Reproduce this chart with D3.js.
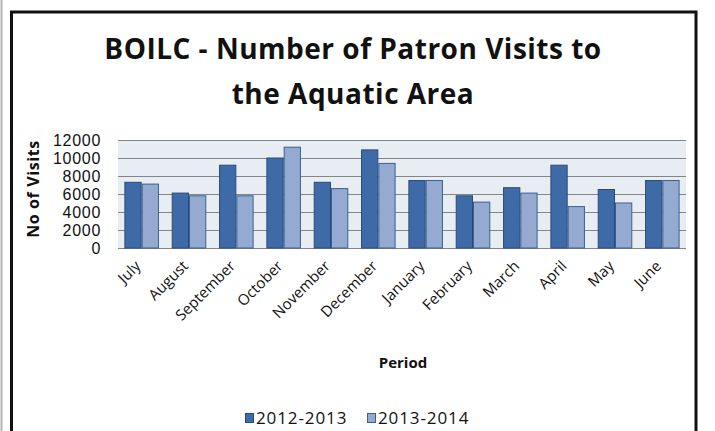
<!DOCTYPE html>
<html>
<head>
<meta charset="utf-8">
<script src="https://cdn.jsdelivr.net/npm/d3@7"></script>
<style>
  body { margin: 0; background: #fff; }
  svg { display: block; font-family: "Open Sans", sans-serif; }
</style>
</head>
<body>
<div id="chart"></div>
<script>
var svgWidth = 715;
var svgHeight = 431;

// data
var months = ["July", "August", "September", "October", "November", "December",
  "January", "February", "March", "April", "May", "June"];
var seriesNames = ["2012-2013", "2013-2014"];
var visits1213 = [7300, 6100, 9200, 10000, 7300, 10900, 7500, 5800, 6700, 9200, 6500, 7500];
var visits1314 = [7100, 5800, 5800, 11200, 6600, 9400, 7500, 5100, 6100, 4600, 5000, 7500];
var yTicks = [0, 2000, 4000, 6000, 8000, 10000, 12000];
var titleLines = ["BOILC - Number of Patron Visits to", "the Aquatic Area"];

var colors = ["#3e6ba7", "#94aad1"];
var strokes = ["#2a4a78", "#3d5f90"];

var plot = { left: 118, right: 686, top: 140, bottom: 248 };

var svg = d3.select("#chart")
  .append("svg")
  .attr("width", svgWidth)
  .attr("height", svgHeight);

// outer frame
svg.append("line")
  .attr("x1", 1.5).attr("x2", 1.5)
  .attr("y1", 0).attr("y2", svgHeight)
  .attr("stroke", "#b4b4b4")
  .attr("stroke-width", 2);

svg.append("rect")
  .attr("x", 11.5)
  .attr("y", 12)
  .attr("width", 684.5)
  .attr("height", 500)
  .attr("fill", "none")
  .attr("stroke", "#111")
  .attr("stroke-width", 3);

// title
svg.append("g").selectAll("text")
  .data(titleLines)
  .enter()
  .append("text")
  .attr("x", 353)
  .attr("y", (d, i) => 59 + i * 45)
  .attr("text-anchor", "middle")
  .style("font-size", "28px")
  .style("font-weight", "bold")
  .style("letter-spacing", "0.5px")
  .style("fill", "#111")
  .text(d => d);

var xScale = d3.scaleBand()
  .domain(months)
  .range([plot.left, plot.right])
  .paddingInner(0.27)
  .paddingOuter(0.135);

var xSub = d3.scaleBand()
  .domain(seriesNames)
  .range([0, xScale.bandwidth()]);

var yScale = d3.scaleLinear()
  .domain([0, 12000])
  .range([plot.bottom, plot.top]);

// plot area
svg.append("rect")
  .attr("x", plot.left)
  .attr("y", plot.top)
  .attr("width", plot.right - plot.left)
  .attr("height", plot.bottom - plot.top)
  .attr("fill", "#e8ecf3");

var yAxis = d3.axisLeft(yScale)
  .tickValues(yTicks)
  .tickSize(-(plot.right - plot.left))
  .tickPadding(17)
  .tickFormat(d3.format("d"));

var yAxisGroup = svg.append("g")
  .attr("transform", `translate(${plot.left}, 0)`)
  .call(yAxis);

yAxisGroup.select(".domain").remove();
yAxisGroup.selectAll("line")
  .attr("stroke", "#858585")
  .attr("stroke-width", 1);
yAxisGroup.selectAll("text")
  .style("font-size", "16px")
  .style("font-family", "'Liberation Sans', sans-serif")
  .style("letter-spacing", "0.7px")
  .style("fill", "#111");

// bars
var table = months.map((m, i) => ({ month: m, values: [visits1213[i], visits1314[i]] }));

var groups = svg.append("g")
  .selectAll("g")
  .data(table)
  .enter()
  .append("g")
  .attr("transform", d => `translate(${xScale(d.month)}, 0)`);

groups.selectAll("rect")
  .data(d => d.values.map((v, j) => ({ series: seriesNames[j], value: v, idx: j })))
  .enter()
  .append("rect")
  .attr("x", d => xSub(d.series) + 0.5)
  .attr("y", d => yScale(d.value))
  .attr("width", xSub.bandwidth() - 1)
  .attr("height", d => yScale(0) - yScale(d.value))
  .attr("fill", d => colors[d.idx])
  .attr("stroke", d => strokes[d.idx])
  .attr("stroke-width", 1);

// x labels, rotated
var xAxis = d3.axisBottom(xScale).tickSize(0).tickPadding(0);
var xAxisGroup = svg.append("g")
  .attr("transform", `translate(0, ${plot.bottom})`)
  .call(xAxis);
xAxisGroup.select(".domain").remove();
xAxisGroup.selectAll("text")
  .attr("text-anchor", "end")
  .attr("dy", null)
  .attr("y", 0)
  .attr("transform", "translate(0, 19) rotate(-45)")
  .style("font-size", "15px")
  .style("font-family", "'Open Sans', sans-serif")
  .style("fill", "#111");

// axis titles
svg.append("text")
  .attr("transform", `translate(39, 189) rotate(-90)`)
  .attr("text-anchor", "middle")
  .style("font-size", "16px")
  .style("font-weight", "bold")
  .style("letter-spacing", "0.6px")
  .style("fill", "#111")
  .text("No of Visits");

svg.append("text")
  .attr("x", 403)
  .attr("y", 368)
  .attr("text-anchor", "middle")
  .style("font-size", "15px")
  .style("font-weight", "bold")
  .style("fill", "#111")
  .text("Period");

// legend
var legend = svg.append("g")
  .attr("transform", "translate(245, 413)");

var legendX = [0, 122];
var legendItems = legend.selectAll("g")
  .data(seriesNames)
  .enter()
  .append("g")
  .attr("transform", (d, i) => `translate(${legendX[i]}, 0)`);

legendItems.append("rect")
  .attr("x", 0.5)
  .attr("y", 0.5)
  .attr("width", 8)
  .attr("height", 9)
  .attr("fill", (d, i) => colors[i])
  .attr("stroke", (d, i) => strokes[i]);

legendItems.append("text")
  .attr("x", 11)
  .attr("y", 11)
  .style("font-size", "17px")
  .style("letter-spacing", "0.9px")
  .style("fill", "#111")
  .text(d => d);
</script>
</body>
</html>
